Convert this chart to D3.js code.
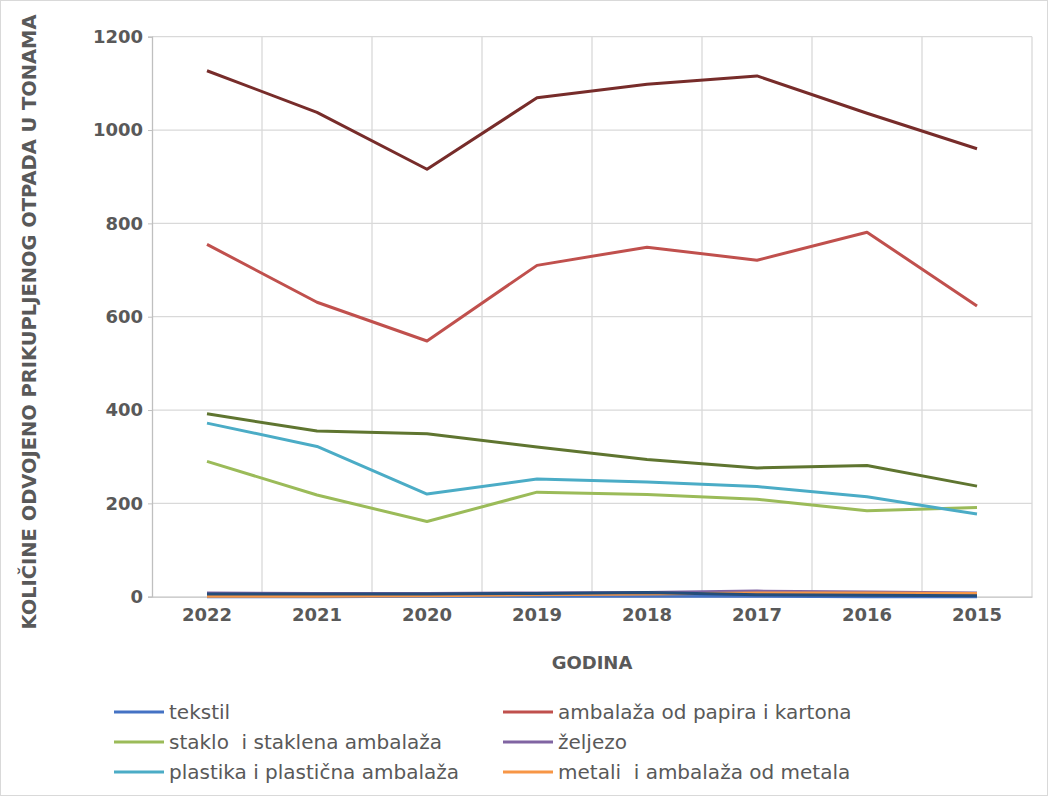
<!DOCTYPE html>
<html>
<head>
<meta charset="utf-8">
<script src="https://cdn.jsdelivr.net/npm/d3@7/dist/d3.min.js"></script>
<style>
  html, body { margin: 0; padding: 0; background: #fff; }
  svg { display: block; }
  text { font-family: "DejaVu Sans", sans-serif; white-space: pre; }
</style>
</head>
<body>
<svg id="chart" width="1048" height="796"></svg>
<script>
// ---- data ----
const years = ["2022", "2021", "2020", "2019", "2018", "2017", "2016", "2015"];
const yTicks = [0, 200, 400, 600, 800, 1000, 1200];

const seriesNames = [
  "tekstil",
  "ambalaža od papira i kartona",
  "staklo  i staklena ambalaža",
  "željezo",
  "plastika i plastična ambalaža",
  "metali  i ambalaža od metala",
  "serija 7",
  "serija 8",
  "serija 9"
];
const tekstil   = [0, 0, 1, 1, 1, 1, 0, 0];
const papir     = [755, 631, 548, 710, 749, 721, 781, 623];
const staklo    = [290, 218, 161, 224, 219, 209, 184, 191];
const zeljezo   = [8, 7, 7, 8, 9, 12, 10, 8];
const plastika  = [372, 322, 220, 252, 246, 236, 214, 177];
const metali    = [1, 1, 2, 4, 6, 8, 8, 7];
const serija7   = [6, 6, 6, 7, 9, 4, 3, 2];
const serija8   = [1127, 1038, 916, 1069, 1098, 1116, 1036, 960];
const serija9   = [392, 355, 349, 321, 294, 276, 281, 237];
const seriesValues = [tekstil, papir, staklo, zeljezo, plastika, metali, serija7, serija8, serija9];
const seriesColors = ["#4472C4", "#C0504D", "#9BBB59", "#8064A2", "#4BACC6", "#F79646", "#254D7A", "#772C2A", "#5F7530"];
const legendCount = 6;

// ---- layout ----
const svg = d3.select("#chart");
const W = 1048, H = 796;
const plot = { left: 152, right: 1032, top: 36.7, bottom: 596.7 };

svg.append("rect").attr("x", 0.5).attr("y", 0.5).attr("width", W - 1).attr("height", H - 1)
  .attr("fill", "#fff").attr("stroke", "#d9d9d9");

const x = d3.scaleBand().domain(years).range([plot.left, plot.right]).padding(0);
const y = d3.scaleLinear().domain([0, 1200]).range([plot.bottom, plot.top]);

// gridlines
const g = svg.append("g");
g.selectAll("line.hg").data(yTicks.filter(d => d > 0)).join("line")
  .attr("x1", plot.left).attr("x2", plot.right)
  .attr("y1", d => y(d)).attr("y2", d => y(d))
  .attr("stroke", "#d9d9d9").attr("stroke-width", 1.3);
const vEdges = years.slice(1).map(d => x(d)).concat([plot.right]);
g.selectAll("line.vg").data(vEdges).join("line")
  .attr("x1", d => d).attr("x2", d => d)
  .attr("y1", plot.top).attr("y2", plot.bottom)
  .attr("stroke", "#d9d9d9").attr("stroke-width", 1.3);

// y axis
const yAxis = d3.axisLeft(y).tickValues(yTicks).tickFormat(d3.format("d")).tickSize(4).tickPadding(5);
const ya = svg.append("g").attr("transform", `translate(${plot.left},0)`).call(yAxis);
ya.select(".domain").attr("stroke", "#bfbfbf").attr("stroke-width", 1.3);
ya.selectAll(".tick line").attr("stroke", "#bfbfbf");
ya.selectAll(".tick text").attr("fill", "#595959").attr("font-size", 18).attr("font-weight", "bold")
  .attr("font-family", "DejaVu Sans");

// x axis
const xAxis = d3.axisBottom(x).tickSize(0).tickPadding(12);
const xa = svg.append("g").attr("transform", `translate(0,${plot.bottom})`).call(xAxis);
xa.select(".domain").attr("stroke", "#bfbfbf").attr("stroke-width", 1.3);
xa.selectAll(".tick text").attr("fill", "#595959").attr("font-size", 18).attr("font-weight", "bold")
  .attr("font-family", "DejaVu Sans");

// lines
const line = d3.line().x((d, i) => x(years[i]) + x.bandwidth() / 2).y(d => y(d));
const drawOrder = [0, 1, 2, 3, 4, 5, 6, 7, 8];
svg.append("g").selectAll("path").data(drawOrder).join("path")
  .attr("d", i => line(seriesValues[i]))
  .attr("fill", "none")
  .attr("stroke", i => seriesColors[i])
  .attr("stroke-width", 3)
  .attr("stroke-linejoin", "round");

// axis titles
svg.append("text").attr("x", (plot.left + plot.right) / 2).attr("y", 669)
  .attr("text-anchor", "middle").attr("fill", "#595959")
  .attr("font-size", 18).attr("font-weight", "bold").text("GODINA");
svg.append("text")
  .attr("transform", `translate(36,322) rotate(-90)`)
  .attr("text-anchor", "middle").attr("fill", "#595959")
  .attr("font-size", 19).attr("font-weight", "bold")
  .attr("textLength", 615).attr("lengthAdjust", "spacingAndGlyphs")
  .text("KOLIČINE ODVOJENO PRIKUPLJENOG OTPADA U TONAMA");

// legend
const legendItems = d3.range(legendCount);
const lg = svg.append("g").selectAll("g").data(legendItems).join("g")
  .attr("transform", i => `translate(${i % 2 === 0 ? 114 : 503},${712 + Math.floor(i / 2) * 30})`);
lg.append("line").attr("x1", 0).attr("x2", 50).attr("y1", 0).attr("y2", 0)
  .attr("stroke", i => seriesColors[i]).attr("stroke-width", 3);
lg.append("text").attr("x", 55).attr("y", 0).attr("dy", "0.35em")
  .attr("fill", "#595959").attr("font-size", 20).text(i => seriesNames[i]);
</script>
</body>
</html>
